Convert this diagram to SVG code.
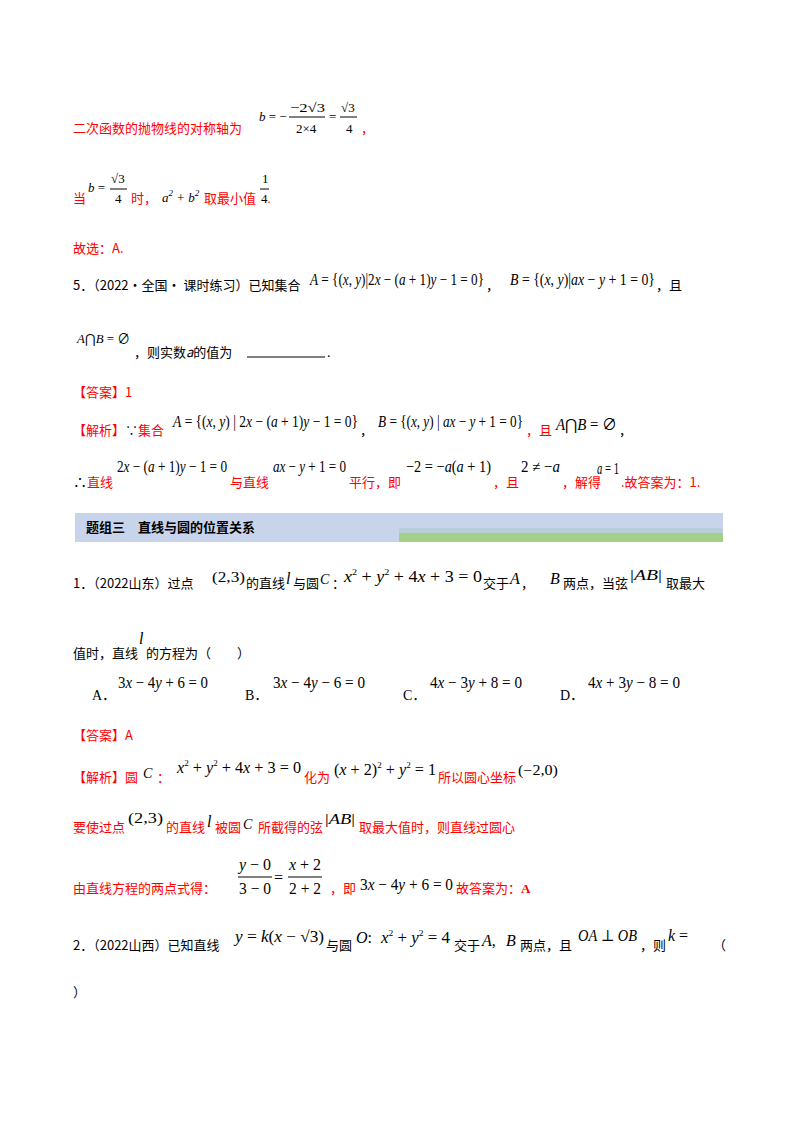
<svg xmlns="http://www.w3.org/2000/svg" width="800" height="1132" viewBox="0 0 800 1132">
<style>
text{font-family:"Liberation Serif","DejaVu Serif","Noto Sans CJK SC",serif;font-size:14px;fill:#000}
.c{font-family:"Noto Sans CJK SC","Liberation Serif",sans-serif;font-size:13px}
.r{fill:#ff0000}
.m{font-style:italic}
.e{font-size:16px}
.s{font-size:13px}
.p{font-size:9px}
.b{font-weight:bold}
</style>
<rect width="800" height="1132" fill="#fff"/>
<g id="line1">
<text x="73" y="133" class="c r" font-size="14">二次函数的抛物线的对称轴为</text>
<text x="259" y="121" class="s"><tspan class="m">b</tspan> = −</text>
<text x="290" y="112" class="s" textLength="35" lengthAdjust="spacingAndGlyphs">−2√3</text>
<line x1="289" y1="117" x2="325" y2="117" stroke="#000"/>
<text x="296" y="133" class="s">2×4</text>
<text x="329" y="121" class="s">=</text>
<text x="341" y="112" class="s">√3</text>
<line x1="340" y1="117" x2="357" y2="117" stroke="#000"/>
<text x="346" y="133" class="s">4</text>
<text x="361" y="133" class="c r">，</text>
</g>
<g id="line2">
<text x="73" y="203" class="c r" font-size="14">当</text>
<text x="88" y="192" class="s"><tspan class="m">b</tspan> =</text>
<text x="111" y="183" class="s">√3</text>
<line x1="110" y1="189" x2="127" y2="189" stroke="#000"/>
<text x="115" y="203" class="s">4</text>
<text x="131" y="203" class="c r">时，</text>
<text x="162" y="202" class="s m">a<tspan class="p" dy="-6">2</tspan><tspan dy="6"> + b</tspan><tspan class="p" dy="-6">2</tspan></text>
<text x="204" y="203" class="c r">取最小值</text>
<text x="262" y="183" class="s">1</text>
<line x1="260" y1="189" x2="269" y2="189" stroke="#000"/>
<text x="261" y="203" class="s">4<tspan class="r">.</tspan></text>
</g>
<text x="73" y="253" class="c r">故选：A.</text>
<g id="q5">
<text x="73" y="290" class="c">5．（2022·全国· 课时练习）已知集合</text>
<text x="310" y="285" class="e" textLength="174" lengthAdjust="spacingAndGlyphs"><tspan class="m">A</tspan> = {(<tspan class="m">x</tspan>, <tspan class="m">y</tspan>)|2<tspan class="m">x</tspan> − (<tspan class="m">a</tspan> + 1)<tspan class="m">y</tspan> − 1 = 0}</text>
<text x="486" y="290" class="c">，</text>
<text x="510" y="285" class="e" textLength="145" lengthAdjust="spacingAndGlyphs"><tspan class="m">B</tspan> = {(<tspan class="m">x</tspan>, <tspan class="m">y</tspan>)|<tspan class="m">ax</tspan> − <tspan class="m">y</tspan> + 1 = 0}</text>
<text x="656" y="290" class="c">，且</text>
<text x="77" y="343" class="s" textLength="53" lengthAdjust="spacingAndGlyphs"><tspan class="m">A</tspan>⋂<tspan class="m">B</tspan> = ∅</text>
<text x="134" y="357" class="c">，则实数<tspan class="m">a</tspan>的值为</text>
<line x1="247" y1="357" x2="325" y2="357" stroke="#000"/>
<text x="327" y="357">.</text>
</g>
<text x="73" y="397" class="c r">【答案】1</text>
<g id="jx1">
<text x="73" y="435" class="c r">【解析】<tspan fill="#000">∵</tspan>集合</text>
<text x="173" y="427" class="e" textLength="185" lengthAdjust="spacingAndGlyphs"><tspan class="m">A</tspan> = {(<tspan class="m">x</tspan>, <tspan class="m">y</tspan>) | 2<tspan class="m">x</tspan> − (<tspan class="m">a</tspan> + 1)<tspan class="m">y</tspan> − 1 = 0}</text>
<text x="360" y="435" class="c">，</text>
<text x="378" y="427" class="e" textLength="145" lengthAdjust="spacingAndGlyphs"><tspan class="m">B</tspan> = {(<tspan class="m">x</tspan>, <tspan class="m">y</tspan>) | <tspan class="m">ax</tspan> − <tspan class="m">y</tspan> + 1 = 0}</text>
<text x="526" y="435" class="c r">，且</text>
<text x="556" y="430" class="e" textLength="61" lengthAdjust="spacingAndGlyphs"><tspan class="m">A</tspan>⋂<tspan class="m">B</tspan> = ∅</text>
<text x="619" y="435" class="c">，</text>
<text x="73" y="487">∴<tspan class="c r">直线</tspan></text>
<text x="117" y="472" class="e" textLength="110" lengthAdjust="spacingAndGlyphs">2<tspan class="m">x</tspan> − (<tspan class="m">a</tspan> + 1)<tspan class="m">y</tspan> − 1 = 0</text>
<text x="230" y="487" class="c r">与直线</text>
<text x="273" y="472" class="e" textLength="73" lengthAdjust="spacingAndGlyphs"><tspan class="m">ax</tspan> − <tspan class="m">y</tspan> + 1 = 0</text>
<text x="349" y="487" class="c r">平行，即</text>
<text x="406" y="472" class="e" textLength="85" lengthAdjust="spacingAndGlyphs">−2 = −<tspan class="m">a</tspan>(<tspan class="m">a</tspan> + 1)</text>
<text x="493" y="487" class="c r">，且</text>
<text x="521" y="472" class="e" textLength="39" lengthAdjust="spacingAndGlyphs">2 ≠ −<tspan class="m">a</tspan></text>
<text x="562" y="487" class="c r">，解得</text>
<text x="597" y="474" class="e" textLength="22" lengthAdjust="spacingAndGlyphs"><tspan class="m">a</tspan> = 1</text>
<text x="621" y="487" class="c r">.故答案为：1.</text>
</g>
<g id="header">
<rect x="75" y="513" width="648" height="29" fill="#c8d4ec"/>
<rect x="399" y="528" width="324" height="5" fill="#b8cfda"/>
<rect x="399" y="533" width="324" height="9" fill="#a4cf88"/>
<text x="86" y="532" class="c b">题组三　直线与圆的位置关系</text>
</g>
<g id="q1">
<text x="73" y="588" class="c">1．（2022山东）过点</text>
<text x="212" y="582" font-size="18" textLength="33" lengthAdjust="spacingAndGlyphs">(2,3)</text>
<text x="246" y="588" class="c">的直线</text>
<text x="286" y="584" class="e m">l</text>
<text x="293" y="588" class="c">与圆</text>
<text x="320" y="584" class="m" font-size="18">C</text>
<text x="332" y="588" class="c">：</text>
<text x="344" y="582" class="e" textLength="138" lengthAdjust="spacingAndGlyphs"><tspan class="m">x</tspan><tspan class="p" dy="-7">2</tspan><tspan dy="7"> + </tspan><tspan class="m">y</tspan><tspan class="p" dy="-7">2</tspan><tspan dy="7"> + 4</tspan><tspan class="m">x</tspan> + 3 = 0</text>
<text x="483" y="588" class="c">交于</text>
<text x="510" y="584" class="e m">A</text>
<text x="521" y="588" class="c">，</text>
<text x="550" y="584" class="e m">B</text>
<text x="563" y="588" class="c">两点，当弦</text>
<text x="630" y="580" font-size="18" textLength="32" lengthAdjust="spacingAndGlyphs">|<tspan class="m">AB</tspan>|</text>
<text x="666" y="588" class="c">取最大</text>
<text x="73" y="658" class="c">值时，直线</text>
<text x="139" y="644" class="e m">l</text>
<text x="146" y="658" class="c">的方程为（　　）</text>
<text x="92" y="700">A．</text>
<text x="118" y="688" class="e" textLength="90" lengthAdjust="spacingAndGlyphs">3<tspan class="m">x</tspan> − 4<tspan class="m">y</tspan> + 6 = 0</text>
<text x="245" y="700">B．</text>
<text x="273" y="688" class="e" textLength="92" lengthAdjust="spacingAndGlyphs">3<tspan class="m">x</tspan> − 4<tspan class="m">y</tspan> − 6 = 0</text>
<text x="403" y="700">C．</text>
<text x="430" y="688" class="e" textLength="92" lengthAdjust="spacingAndGlyphs">4<tspan class="m">x</tspan> − 3<tspan class="m">y</tspan> + 8 = 0</text>
<text x="560" y="700">D．</text>
<text x="588" y="688" class="e" textLength="92" lengthAdjust="spacingAndGlyphs">4<tspan class="m">x</tspan> + 3<tspan class="m">y</tspan> − 8 = 0</text>
</g>
<text x="73" y="740" class="c r">【答案】A</text>
<g id="jx2">
<text x="73" y="782" class="c r">【解析】圆</text>
<text x="143" y="778" class="m" font-size="18">C</text>
<text x="157" y="782" class="c r">：</text>
<text x="177" y="773" class="e" textLength="124" lengthAdjust="spacingAndGlyphs"><tspan class="m">x</tspan><tspan class="p" dy="-7">2</tspan><tspan dy="7"> + </tspan><tspan class="m">y</tspan><tspan class="p" dy="-7">2</tspan><tspan dy="7"> + 4</tspan><tspan class="m">x</tspan> + 3 = 0</text>
<text x="304" y="782" class="c r">化为</text>
<text x="334" y="775" class="e" textLength="102" lengthAdjust="spacingAndGlyphs">(<tspan class="m">x</tspan> + 2)<tspan class="p" dy="-7">2</tspan><tspan dy="7"> + </tspan><tspan class="m">y</tspan><tspan class="p" dy="-7">2</tspan><tspan dy="7"> = 1</tspan></text>
<text x="438" y="782" class="c r">所以圆心坐标</text>
<text x="518" y="775" font-size="18" textLength="40" lengthAdjust="spacingAndGlyphs">(−2,0)</text>
<text x="73" y="832" class="c r">要使过点</text>
<text x="128" y="823" font-size="18" textLength="35" lengthAdjust="spacingAndGlyphs">(2,3)</text>
<text x="166" y="832" class="c r">的直线</text>
<text x="207" y="827" class="e m">l</text>
<text x="215" y="832" class="c r">被圆</text>
<text x="243" y="829" class="m" font-size="18">C</text>
<text x="258" y="832" class="c r">所截得的弦</text>
<text x="325" y="824" font-size="18" textLength="30" lengthAdjust="spacingAndGlyphs">|<tspan class="m">AB</tspan>|</text>
<text x="359" y="832" class="c r">取最大值时，则直线过圆心</text>
<text x="73" y="893" class="c r">由直线方程的两点式得：</text>
<text x="239" y="870" class="e" textLength="32" lengthAdjust="spacingAndGlyphs"><tspan class="m">y</tspan> − 0</text>
<line x1="238" y1="877" x2="272" y2="877" stroke="#000"/>
<text x="239" y="894" class="e" textLength="32" lengthAdjust="spacingAndGlyphs">3 − 0</text>
<text x="274" y="883" class="e">=</text>
<text x="289" y="870" class="e" textLength="32" lengthAdjust="spacingAndGlyphs"><tspan class="m">x</tspan> + 2</text>
<line x1="288" y1="877" x2="322" y2="877" stroke="#000"/>
<text x="289" y="894" class="e" textLength="32" lengthAdjust="spacingAndGlyphs">2 + 2</text>
<text x="330" y="893" class="c r">，即</text>
<text x="360" y="890" class="e" textLength="93" lengthAdjust="spacingAndGlyphs">3<tspan class="m">x</tspan> − 4<tspan class="m">y</tspan> + 6 = 0</text>
<text x="456" y="893" class="c r">故答案为：<tspan class="b" font-family="Liberation Serif">A</tspan></text>
</g>
<g id="q2">
<text x="73" y="950" class="c">2．（2022山西）已知直线</text>
<text x="235" y="942" class="e" textLength="89" lengthAdjust="spacingAndGlyphs"><tspan class="m">y</tspan> = <tspan class="m">k</tspan>(<tspan class="m">x</tspan> − √3)</text>
<text x="326" y="950" class="c">与圆</text>
<text x="356" y="943" class="e"><tspan class="m">O</tspan>:</text>
<text x="381" y="943" class="e" textLength="69" lengthAdjust="spacingAndGlyphs"><tspan class="m">x</tspan><tspan class="p" dy="-7">2</tspan><tspan dy="7"> + </tspan><tspan class="m">y</tspan><tspan class="p" dy="-7">2</tspan><tspan dy="7"> = 4</tspan></text>
<text x="454" y="950" class="c">交于</text>
<text x="482" y="946" class="e m">A<tspan font-style="normal">,</tspan></text>
<text x="506" y="946" class="e m">B</text>
<text x="520" y="950" class="c">两点，且</text>
<text x="578" y="941" class="e m" textLength="59" lengthAdjust="spacingAndGlyphs">OA<tspan font-style="normal"> ⊥ </tspan>OB</text>
<text x="640" y="950" class="c">，则</text>
<text x="668" y="941" class="e"><tspan class="m">k</tspan> =</text>
<text x="713" y="950" class="c">（</text>
<text x="73" y="997" class="c">）</text>
</g>
</svg>
